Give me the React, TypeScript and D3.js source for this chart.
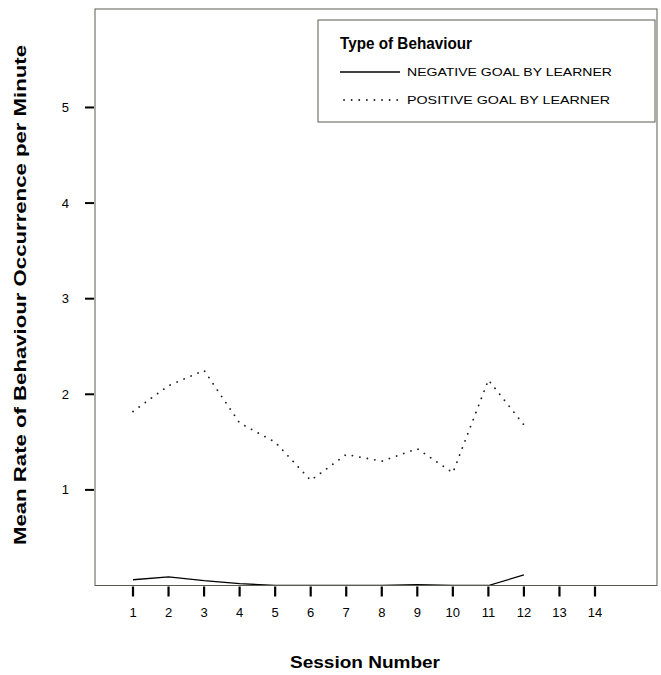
import React from "react";
import * as d3 from "d3";

// Session numbers and mean rates per minute for each behaviour type
const sessions = [1, 2, 3, 4, 5, 6, 7, 8, 9, 10, 11, 12];
const negativeGoal = [0.06, 0.09, 0.05, 0.02, 0, 0, 0, 0, 0.01, 0, 0, 0.11];
const positiveGoal = [1.82, 2.09, 2.25, 1.7, 1.5, 1.1, 1.37, 1.3, 1.43, 1.18, 2.15, 1.68];

const xTicks = [1, 2, 3, 4, 5, 6, 7, 8, 9, 10, 11, 12, 13, 14];
const yTicks = [1, 2, 3, 4, 5];

const seriesNames = ["NEGATIVE GOAL BY LEARNER", "POSITIVE GOAL BY LEARNER"];

const W = 661;
const H = 675;

// plot frame edges
const LEFT = 95;
const RIGHT = 657;

const x = d3.scaleLinear().domain([1, 14]).range([133, 595]);
const y = d3.scaleLinear().domain([0, 6.03]).range([585.5, 9]);

const line = d3
  .line<number>()
  .x((_, i) => x(sessions[i]))
  .y((d) => y(d));

const FRAME = "#5a5a52";
const FONT = "'Liberation Sans', Arial, sans-serif";

export default function App() {
  const top = y(6.03);
  const bottom = y(0);

  return (
    <svg
      width={W}
      height={H}
      viewBox={`0 0 ${W} ${H}`}
      style={{ position: "absolute", left: 0, top: 0, background: "#fff" }}
      fontFamily={FONT}
    >
      <rect x={0} y={0} width={W} height={H} fill="#fff" />
      <defs>
        <clipPath id="plotArea">
          <rect x={LEFT} y={top} width={RIGHT - LEFT} height={bottom - top - 0.6} />
        </clipPath>
      </defs>

      {/* series */}
      <g clipPath="url(#plotArea)">
        <path d={line(negativeGoal) ?? ""} fill="none" stroke="#000" strokeWidth={1.3} />
        <path
          d={line(positiveGoal) ?? ""}
          fill="none"
          stroke="#222"
          strokeWidth={1.8}
          strokeLinecap="round"
          strokeDasharray="0.1 7.5"
        />
      </g>

      {/* frame */}
      <rect
        x={LEFT}
        y={top}
        width={RIGHT - LEFT}
        height={bottom - top}
        fill="none"
        stroke={FRAME}
        strokeWidth={1}
      />

      {/* y axis */}
      {yTicks.map((t) => (
        <g key={`y${t}`}>
          <line x1={LEFT - 10} x2={LEFT - 1} y1={y(t)} y2={y(t)} stroke="#000" strokeWidth={2} />
          <text x={69} y={y(t)} dy="0.35em" textAnchor="end" fontSize={13}>
            {t}
          </text>
        </g>
      ))}

      {/* x axis */}
      {xTicks.map((t) => (
        <g key={`x${t}`}>
          <line x1={x(t)} x2={x(t)} y1={bottom + 1} y2={bottom + 11} stroke="#000" strokeWidth={2.2} />
          <text x={x(t)} y={617} textAnchor="middle" fontSize={13}>
            {t}
          </text>
        </g>
      ))}

      {/* axis titles */}
      <text
        x={365}
        y={668}
        textAnchor="middle"
        fontSize={16}
        fontWeight="bold"
        textLength={150}
        lengthAdjust="spacingAndGlyphs"
      >
        Session Number
      </text>
      <text
        transform="translate(26,295) rotate(-90)"
        textAnchor="middle"
        fontSize={16}
        fontWeight="bold"
        textLength={500}
        lengthAdjust="spacingAndGlyphs"
      >
        Mean Rate of Behaviour Occurrence per Minute
      </text>

      {/* legend */}
      <g>
        <rect x={318} y={20} width={337} height={102} fill="#fff" stroke={FRAME} strokeWidth={1} />
        <text
          x={340}
          y={49}
          fontSize={17}
          fontWeight="bold"
          textLength={132}
          lengthAdjust="spacingAndGlyphs"
        >
          Type of Behaviour
        </text>
        <line x1={340} x2={400} y1={72} y2={72} stroke="#000" strokeWidth={1.6} />
        <line
          x1={344}
          x2={400}
          y1={100}
          y2={100}
          stroke="#222"
          strokeWidth={1.8}
          strokeLinecap="round"
          strokeDasharray="0.1 7.5"
        />
        <text x={407} y={76} fontSize={11.5} textLength={205} lengthAdjust="spacingAndGlyphs">
          {seriesNames[0]}
        </text>
        <text x={407} y={104} fontSize={11.5} textLength={203} lengthAdjust="spacingAndGlyphs">
          {seriesNames[1]}
        </text>
      </g>
    </svg>
  );
}
